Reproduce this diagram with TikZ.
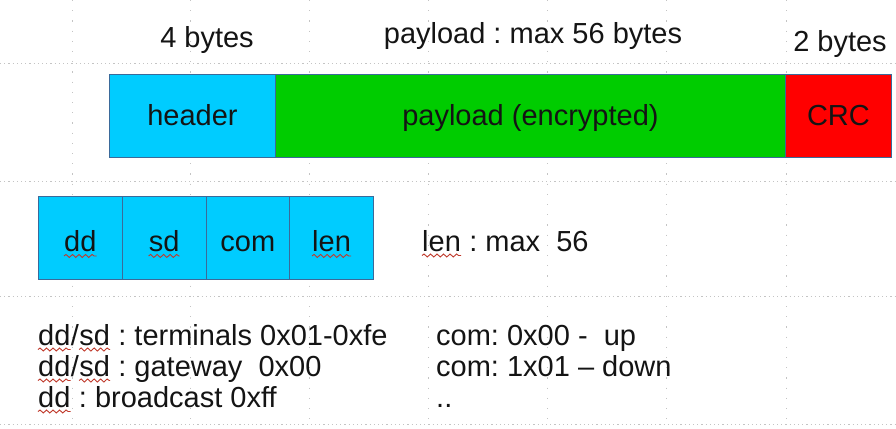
\documentclass[tikz,border=0pt]{standalone}
\usepackage{fontspec}
\setmainfont{Liberation Sans}
\usetikzlibrary{decorations.pathmorphing}
\frenchspacing
\definecolor{hdr}{HTML}{00CCFF}
\definecolor{pay}{HTML}{00CC00}
\definecolor{crc}{HTML}{FF0000}
\definecolor{edge}{HTML}{3B6A9A}
\definecolor{spell}{HTML}{C0392B}
\definecolor{gridc}{HTML}{C4C4C4}
\tikzset{
  txt/.style={font=\fontsize{29}{33}\selectfont\frenchspacing, inner sep=0pt, text=black!92},
  barbox/.style={txt, draw=edge, line width=0.9pt, minimum height=83pt, text height=20pt, text depth=0pt, anchor=north west},
  fieldbox/.style={barbox, fill=hdr, minimum width=83.75pt, text height=27pt},
  hgrid/.style={draw=gridc, line width=0.9pt, dash pattern=on 1.2pt off 3pt},
  vgrid/.style={draw=gridc, line width=0.9pt, dash pattern=on 1.2pt off 9pt},
  squig/.style={draw=spell, line width=0.9pt, decorate, decoration={snake, segment length=6.5pt, amplitude=1.5pt}},
  chain/.style={txt, anchor=base west}
}
\newcommand\wave[1]{\draw[squig] ([yshift=-4.5pt]#1.base west) -- ([yshift=-4.5pt]#1.base east);}
\begin{document}
\begin{tikzpicture}[x=1pt,y=-1pt]
\useasboundingbox[fill=white] (0,0) rectangle (896,428);
% background grid
\foreach \gy in {63,181,296,424} \draw[hgrid] (0,\gy) -- (896,\gy);
\foreach \gx in {72,190,309,428,547,666,786} \draw[vgrid] (\gx,0) -- (\gx,428);
% frame
\node[barbox, fill=hdr, minimum width=166pt] (header) at (109,74) {header};
\node[barbox, fill=pay, minimum width=510pt] (payload) at (275,74) {payload (encrypted)};
\node[barbox, fill=crc, minimum width=106pt] (crc) at (785,74) {CRC};
% size labels
\node[txt, anchor=base] (l4) at (207,48) {4 bytes};
\node[txt, anchor=base] (lp) at (533,44) {payload : max 56 bytes};
\node[txt, anchor=base] (l2) at (840,52) {2 bytes};
% header fields
\node[fieldbox] (dd) at (38,196) {};
\node[fieldbox] (sd) at (121.75,196) {};
\node[fieldbox] (com) at (205.5,196) {com};
\node[fieldbox] (len) at (289.25,196) {};
\node[txt, anchor=base] (ddw) at ([yshift=-13.5pt]dd.center) {dd};
\node[txt, anchor=base] (sdw) at ([yshift=-13.5pt]sd.center) {sd};
\node[txt, anchor=base] (lenw) at ([yshift=-13.5pt]len.center) {len};
\wave{ddw}\wave{sdw}\wave{lenw}
% len note
\node[chain] (lm1) at (422,251) {len};
\node[chain] (lm2) at (lm1.base east) {\ : max\ \ 56};
\wave{lm1}
% address notes
\node[chain] (n1a) at (38,345) {dd};
\node[chain] (n1b) at (n1a.base east) {/};
\node[chain] (n1c) at (n1b.base east) {sd};
\node[chain] (n1d) at (n1c.base east) {\ : terminals 0x01-0xfe};
\node[chain] (n2a) at (38,376) {dd};
\node[chain] (n2b) at (n2a.base east) {/};
\node[chain] (n2c) at (n2b.base east) {sd};
\node[chain] (n2d) at (n2c.base east) {\ : gateway\ \ 0x00};
\node[chain] (n3a) at (38,407) {dd};
\node[chain] (n3b) at (n3a.base east) {\ : broadcast 0xff};
\wave{n1a}\wave{n1c}\wave{n2a}\wave{n2c}\wave{n3a}
% com notes
\node[chain] (c1) at (436,345) {com: 0x00 -\ \ up};
\node[chain] (c2) at (436,376) {com: 1x01 – down};
\node[chain] (c3) at (436,407) {..};
\end{tikzpicture}
\end{document}
